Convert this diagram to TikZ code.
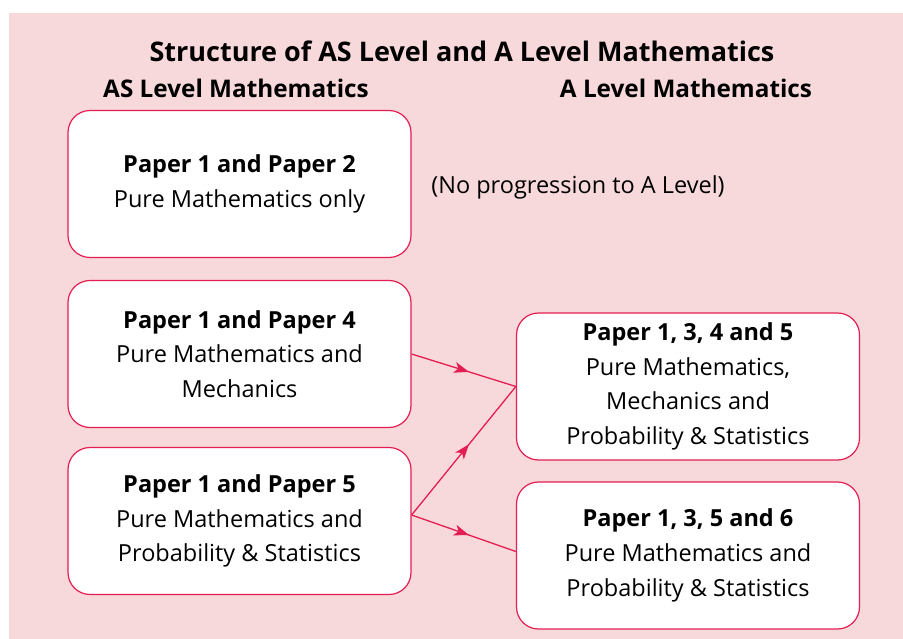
\documentclass[tikz,border=0pt]{standalone}
\usepackage{fontspec}
\setmainfont{Open Sans}
\usetikzlibrary{arrows.meta,decorations.markings}
\definecolor{camPink}{RGB}{247,217,219}
\definecolor{camRed}{RGB}{228,30,82}
\begin{document}
\begin{tikzpicture}[
    x=1pt,y=-1pt,
    box/.style={draw=camRed,fill=white,rounded corners=22pt,align=center,line width=1.2pt,minimum width=343pt,minimum height=147pt,font=\fontsize{23.5}{34.7}\selectfont},
    head/.style={font=\fontsize{24.3}{28}\selectfont\bfseries},
    arr/.style={camRed,line width=1.3pt,postaction={decorate},
        decoration={markings,mark=at position 0.55 with {\arrow{Stealth[length=15pt,width=11pt,inset=4pt]}}}}
]
\useasboundingbox (0,0) rectangle (903,639);
\fill[camPink] (9,13) rectangle (903,639);
\node[font=\fontsize{27}{30}\selectfont\bfseries] (title) at (462,51) {Structure of AS Level and A Level Mathematics};
\node[head] (asHead) at (236,88) {AS Level Mathematics};
\node[head] (aHead) at (686,88) {A Level Mathematics};
\node[box] (p12) at (239.5,184) {\textbf{Paper 1 and Paper 2}\\Pure Mathematics only};
\node[font=\fontsize{23.5}{34.7}\selectfont] (noProg) at (578,187) {(No progression to A Level)};
\node[box] (p14) at (239.5,354) {\textbf{Paper 1 and Paper 4}\\Pure Mathematics and\\Mechanics};
\node[box] (p15) at (239.5,521) {\textbf{Paper 1 and Paper 5}\\Pure Mathematics and\\Probability \& Statistics};
\node[box] (p1345) at (688,386.5) {\textbf{Paper 1, 3, 4 and 5}\\Pure Mathematics,\\Mechanics and\\Probability \& Statistics};
\node[box] (p1356) at (688,555.5) {\textbf{Paper 1, 3, 5 and 6}\\Pure Mathematics and\\Probability \& Statistics};
\draw[arr] (p14.east) -- (p1345.west);
\draw[arr] ([yshift=6pt]p15.east) -- (p1345.west);
\draw[arr] ([yshift=6pt]p15.east) -- ([yshift=4pt]p1356.west);
\end{tikzpicture}
\end{document}
